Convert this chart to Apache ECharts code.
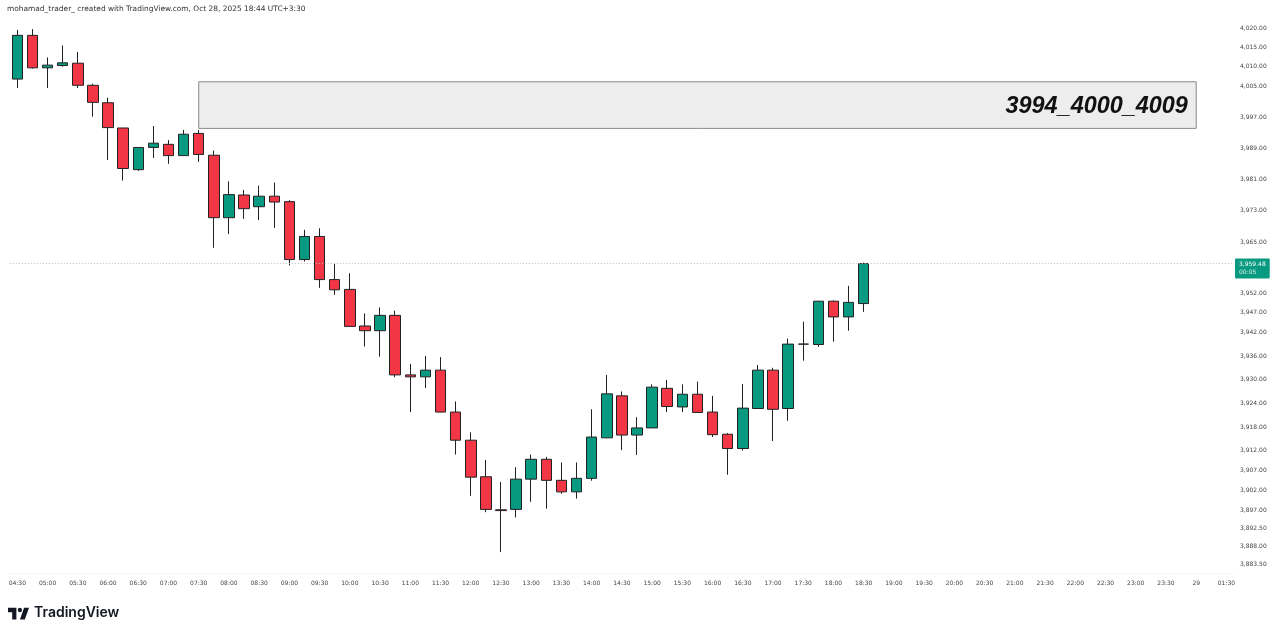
<!DOCTYPE html>
<html>
<head>
<meta charset="utf-8">
<title>TradingView chart</title>
<script src="https://cdn.jsdelivr.net/npm/echarts@6/dist/echarts.min.js"></script>
<style>
  html, body { margin: 0; padding: 0; background: #fff; }
  #main { width: 1280px; height: 634px; }
</style>
</head>
<body>
<div id="main"></div>
<script>
  // 30 minute labels, the candles are 15 minutes so there is one candle between each
  var timeLabels = ['04:30', '05:00', '05:30', '06:00', '06:30', '07:00', '07:30', '08:00', '08:30', '09:00',
    '09:30', '10:00', '10:30', '11:00', '11:30', '12:00', '12:30', '13:00', '13:30', '14:00',
    '14:30', '15:00', '15:30', '16:00', '16:30', '17:00', '17:30', '18:00', '18:30', '19:00',
    '19:30', '20:00', '20:30', '21:00', '21:30', '22:00', '22:30', '23:00', '23:30', '29', '01:30'];

  var opens = [4006.8, 4018.1, 4009.7, 4010.3, 4010.9, 4005.2, 4000.7, 3994.2, 3983.5, 3989.2,
    3990.0, 3987.1, 3992.8, 3987.2, 3971.2, 3977.0, 3974.0, 3976.7, 3975.3, 3960.5,
    3966.4, 3955.4, 3952.9, 3943.6, 3942.4, 3946.3, 3931.2, 3930.7, 3932.4, 3921.8,
    3914.7, 3905.5, 3897.2, 3897.3, 3904.9, 3909.9, 3904.6, 3901.7, 3905.1, 3915.3,
    3925.9, 3916.0, 3917.8, 3927.8, 3923.1, 3926.3, 3921.8, 3916.2, 3912.6, 3922.7,
    3932.4, 3922.7, 3939.0, 3938.9, 3949.9, 3945.9, 3949.3];
  var closes = [4018.1, 4009.7, 4010.4, 4011.0, 4005.2, 4000.8, 3994.3, 3983.8, 3989.2, 3990.3,
    3987.1, 3992.6, 3987.4, 3971.2, 3977.1, 3973.5, 3976.7, 3975.2, 3960.5, 3966.4,
    3955.4, 3952.8, 3943.5, 3942.4, 3946.3, 3931.2, 3930.7, 3932.4, 3921.8, 3914.7,
    3905.4, 3897.3, 3897.0, 3904.9, 3909.9, 3904.6, 3901.7, 3905.1, 3915.5, 3926.4,
    3916.0, 3917.8, 3928.1, 3923.2, 3926.3, 3921.7, 3916.1, 3912.6, 3922.8, 3932.4,
    3922.5, 3939.0, 3939.0, 3949.9, 3945.9, 3949.6, 3959.48];
  var lows = [4004.5, 4009.5, 4004.5, 4010.0, 4004.5, 3997.1, 3986.0, 3980.7, 3983.2, 3986.5,
    3985.0, 3987.1, 3985.5, 3963.5, 3967.0, 3970.9, 3970.6, 3968.6, 3959.0, 3960.0,
    3953.3, 3951.5, 3943.5, 3938.4, 3935.8, 3930.6, 3921.8, 3927.9, 3921.8, 3911.1,
    3900.7, 3896.6, 3886.6, 3895.3, 3899.2, 3897.5, 3901.2, 3900.0, 3904.5, 3915.2,
    3912.2, 3911.0, 3917.8, 3921.8, 3921.8, 3921.7, 3915.5, 3906.0, 3912.1, 3922.7,
    3914.5, 3919.6, 3934.8, 3938.3, 3939.6, 3942.4, 3947.2];
  var highs = [4019.5, 4019.7, 4012.4, 4015.5, 4013.8, 4005.6, 4002.0, 3994.2, 3989.3, 3994.7,
    3991.1, 3993.7, 3993.7, 3988.4, 3980.5, 3978.3, 3979.4, 3980.2, 3975.7, 3968.1,
    3968.5, 3959.4, 3957.0, 3946.8, 3948.3, 3947.5, 3934.0, 3936.0, 3935.7, 3924.5,
    3916.7, 3909.7, 3904.2, 3907.9, 3911.1, 3910.5, 3909.1, 3909.1, 3922.5, 3931.2,
    3927.0, 3920.5, 3928.8, 3929.9, 3928.8, 3929.5, 3925.9, 3916.5, 3928.9, 3933.7,
    3933.0, 3940.4, 3944.7, 3949.9, 3950.1, 3953.8, 3959.7];

  var priceTicks = [4020, 4015, 4010, 4005, 3997, 3989, 3981, 3973, 3965, 3952, 3947, 3942,
    3936, 3930, 3924, 3918, 3912, 3907, 3902, 3897, 3892.5, 3888, 3883.5];

  var lastPrice = 3959.48;
  var zoneTop = 4006.1;
  var zoneBottom = 3994.1;
  var zoneStart = 12;
  var zoneEnd = 78;
  var zoneText = '3994_4000_4009';
  var titleText = 'mohamad_trader_ created with TradingView.com, Oct 28, 2025 18:44 UTC+3:30';

  var upColor = '#089981';
  var downColor = '#f23645';
  var logoColor = '#131722';

  function money(v) {
    return v.toLocaleString('en-US', {minimumFractionDigits: 2, maximumFractionDigits: 2});
  }

  // every second slot has no label
  var categories = [];
  timeLabels.forEach(function (t, i) {
    categories.push(t);
    if (i < timeLabels.length - 1) categories.push(' ');
  });

  var candles = opens.map(function (o, i) {
    return [o, closes[i], lows[i], highs[i]];
  });

  var myChart = echarts.init(document.getElementById('main'), null, {renderer: 'canvas'});

  var option = {
    animation: false,
    backgroundColor: '#fff',
    title: {
      text: titleText,
      left: 7,
      top: 6,
      padding: 0,
      textStyle: {fontFamily: 'DejaVu Sans', fontSize: 7.45, fontWeight: 'normal', color: '#333'}
    },
    grid: {left: 9.8, top: 18, right: 46, bottom: 61},
    xAxis: {
      type: 'category',
      data: categories,
      axisTick: {show: false},
      axisLine: {lineStyle: {color: '#f6f6f6'}},
      splitLine: {show: false},
      axisLabel: {
        interval: 0,
        margin: 7,
        fontFamily: 'DejaVu Sans',
        fontSize: 6,
        color: '#444'
      }
    },
    yAxis: {
      type: 'log',
      logBase: 10,
      position: 'right',
      min: 3881.37,
      max: 4022.59,
      axisLine: {show: false},
      axisTick: {show: false},
      splitLine: {show: false},
      axisLabel: {
        customValues: priceTicks,
        margin: 6,
        align: 'left',
        fontFamily: 'DejaVu Sans',
        fontSize: 6,
        color: '#444',
        formatter: function (v) { return money(v); }
      }
    },
    series: [{
      type: 'candlestick',
      data: candles,
      barWidth: 11,
      itemStyle: {
        color: upColor,
        color0: downColor,
        borderColor: '#222',
        borderColor0: '#222',
        borderWidth: 1
      },
      markArea: {
        silent: true,
        itemStyle: {color: '#ededed', borderColor: '#888', borderWidth: 1},
        label: {
          show: true,
          position: 'insideRight',
          distance: 9,
          offset: [0, 1],
          formatter: zoneText,
          fontFamily: 'Liberation Sans',
          fontStyle: 'italic',
          fontWeight: 'bold',
          fontSize: 23.4,
          color: '#111'
        },
        data: [[{xAxis: zoneStart, yAxis: zoneTop}, {xAxis: zoneEnd, yAxis: zoneBottom}]]
      },
      markLine: {
        silent: true,
        symbol: 'none',
        precision: 2,
        lineStyle: {type: [1, 2], color: '#bdbdbd', width: 1},
        label: {
          show: true,
          position: 'end',
          distance: 0,
          offset: [1, 5],
          align: 'left',
          padding: [2, 4, 2, 4],
          borderRadius: 1,
          backgroundColor: upColor,
          formatter: '{a|' + money(lastPrice) + '}\n{b|00:05}',
          rich: {
            a: {fontFamily: 'DejaVu Sans', fontSize: 6, lineHeight: 8, color: '#fff'},
            b: {fontFamily: 'DejaVu Sans', fontSize: 6, lineHeight: 8, color: '#d8f0ea'}
          }
        },
        data: [{yAxis: lastPrice}]
      }
    }],
    graphic: [
      {
        type: 'group',
        x: 6.6,
        y: 603,
        scaleX: 0.7,
        scaleY: 0.78,
        children: [
          {type: 'polygon', shape: {points: [[2, 6], [14, 6], [14, 21], [8, 21], [8, 12], [2, 12]]}, style: {fill: logoColor}},
          {type: 'polygon', shape: {points: [[25, 6], [32, 6], [26, 21], [19, 21]]}, style: {fill: logoColor}},
          {type: 'circle', shape: {cx: 19, cy: 9, r: 3}, style: {fill: logoColor}}
        ]
      },
      {
        type: 'text',
        left: 34,
        top: 606,
        style: {
          text: 'TradingView',
          fontFamily: 'Inter',
          fontSize: 14,
          fontWeight: 600,
          fill: logoColor
        }
      }
    ]
  };

  myChart.setOption(option);
</script>
</body>
</html>
